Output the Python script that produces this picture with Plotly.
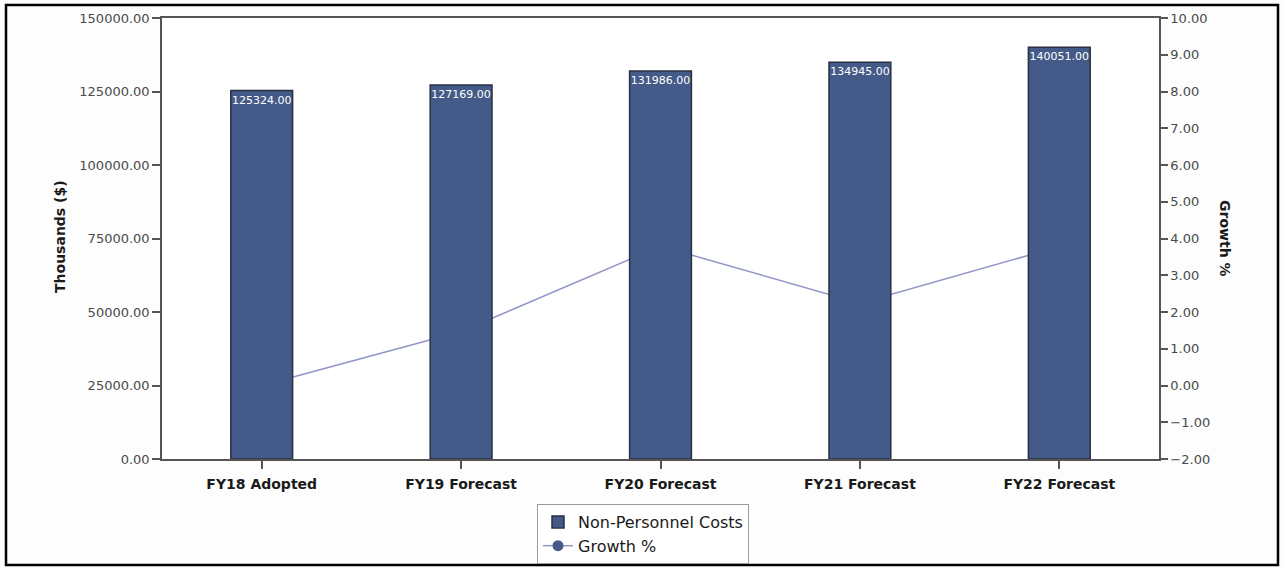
import plotly.graph_objects as go

# Fiscal-year categories and values
categories = ["FY18 Adopted", "FY19 Forecast", "FY20 Forecast", "FY21 Forecast", "FY22 Forecast"]
non_personnel_costs = [125324.00, 127169.00, 131986.00, 134945.00, 140051.00]
growth_pct = [0.00, 1.47, 3.79, 2.24, 3.78]

# Plot-area geometry in page pixels (used to convert to paper coordinates)
W, H = 1283, 568
ML, MR, MT, MB = 162, 124, 18, 109
PW, PH = W - ML - MR, H - MT - MB


def px_x(x):
    return (x - ML) / PW


def px_y(y):
    return (H - MB - y) / PH


FONT = "DejaVu Sans"
BAR_FILL = "#445a88"
BAR_EDGE = "#2a3042"
LINE_COLOR = "#9196c8"
AXIS_COLOR = "#555555"
TICK_FONT_COLOR = "#4a4a4a"

fig = go.Figure()

# Costs as bars on the left-hand axis (overlaying, so they sit above the line)
fig.add_trace(go.Bar(
    x=categories,
    y=non_personnel_costs,
    name="Non-Personnel Costs",
    yaxis="y2",
    marker=dict(color=BAR_FILL, line=dict(color=BAR_EDGE, width=1.5)),
    texttemplate="%{y:.2f}",
    textposition="inside",
    insidetextanchor="end",
    textangle=0,
    constraintext="none",
    textfont=dict(family=FONT, size=11, color="white"),
    cliponaxis=False,
))

# Growth % as a line on the right-hand axis
fig.add_trace(go.Scatter(
    x=categories,
    y=growth_pct,
    name="Growth %",
    yaxis="y",
    mode="lines+markers",
    line=dict(color=LINE_COLOR, width=1.5),
    marker=dict(color=BAR_FILL, size=11, symbol="circle"),
))

fig.update_layout(
    width=W,
    height=H,
    margin=dict(l=ML, r=MR, t=MT, b=MB, pad=0, autoexpand=False),
    paper_bgcolor="#fdfdfd",
    plot_bgcolor="white",
    bargap=0.69,
    font=dict(family=FONT, size=13, color=TICK_FONT_COLOR),
    showlegend=True,
    legend=dict(
        xref="container", yref="container",
        x=643 / W, xanchor="center",
        y=1 - 504 / H, yanchor="top",
        orientation="v",
        bordercolor="#9a9a9a", borderwidth=1,
        bgcolor="white",
        font=dict(family=FONT, size=16, color="#1a1a1a"),
        tracegroupgap=0,
        itemwidth=30,
    ),
    xaxis=dict(
        showline=True, linecolor=AXIS_COLOR, linewidth=1.5, mirror=True,
        ticks="outside", ticklen=8, tickcolor=AXIS_COLOR, tickwidth=1.5,
        ticklabelstandoff=3,
        tickfont=dict(family=FONT, size=14, color="#1a1a1a", weight="bold"),
        showgrid=False, zeroline=False,
    ),
    yaxis=dict(
        side="right",
        range=[-2, 10], dtick=1, tickformat=".2f",
        showline=True, linecolor=AXIS_COLOR, linewidth=1.5,
        ticks="outside", ticklen=7, tickcolor=AXIS_COLOR, tickwidth=1.5,
        tickfont=dict(family=FONT, size=13, color=TICK_FONT_COLOR),
        showgrid=False, zeroline=False,
    ),
    yaxis2=dict(
        side="left", overlaying="y",
        range=[0, 150000], dtick=25000, tickformat=".2f",
        showline=True, linecolor=AXIS_COLOR, linewidth=1.5,
        ticks="outside", ticklen=8, tickcolor=AXIS_COLOR, tickwidth=1.5,
        tickfont=dict(family=FONT, size=13, color=TICK_FONT_COLOR),
        showgrid=False, zeroline=False,
    ),
    annotations=[
        dict(text="Thousands ($)", textangle=-90, showarrow=False,
             xref="paper", yref="paper", x=px_x(60), y=px_y(237),
             xanchor="center", yanchor="middle",
             font=dict(family=FONT, size=14, color="#1a1a1a", weight="bold")),
        dict(text="Growth %", textangle=90, showarrow=False,
             xref="paper", yref="paper", x=px_x(1225), y=px_y(238),
             xanchor="center", yanchor="middle",
             font=dict(family=FONT, size=14, color="#1a1a1a", weight="bold")),
    ],
    shapes=[
        # outer black frame around the whole chart
        dict(type="rect", xref="paper", yref="paper",
             x0=px_x(6), x1=px_x(1278), y0=px_y(565), y1=px_y(5),
             line=dict(color="black", width=2.5), fillcolor="rgba(0,0,0,0)",
             layer="above"),
    ],
)

fig.write_html("out.html")
